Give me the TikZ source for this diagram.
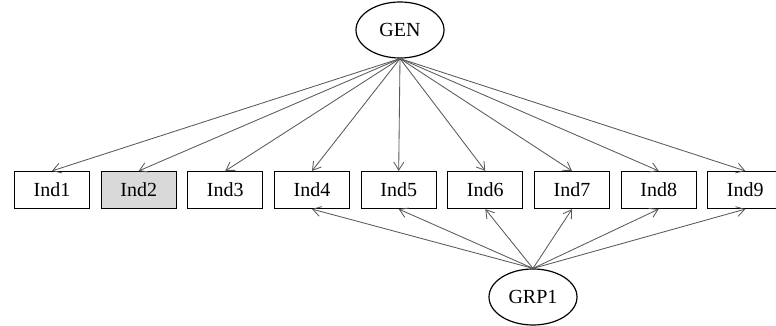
\documentclass[tikz,border=0pt]{standalone}
\usepackage{fontspec}
\setmainfont{Liberation Serif}
\usetikzlibrary{arrows.meta,shapes.geometric}
\begin{document}
\begin{tikzpicture}[x=1pt,y=-1pt,
  indbox/.style={draw=black,line width=1.2pt,minimum width=75pt,minimum height=37pt,inner sep=0pt,font=\fontsize{20}{22}\selectfont},
  latent/.style={draw=black,ellipse,line width=1.2pt,minimum width=88pt,minimum height=56pt,inner sep=0pt,font=\fontsize{20}{22}\selectfont},
  conn/.style={draw=black!65,line width=0.85pt,-{Straight Barb[length=8pt,width=10pt]}}]
\useasboundingbox (0,0) rectangle (776,326);
\clip (0,0) rectangle (776,326);
\node[latent] (GEN) at (400,30) {GEN};
\node[latent] (GRP1) at (533,297) {GRP1};
\foreach \i/\x in {1/52,2/138.7,3/225.3,4/312,5/398.7,6/485.3,7/572,8/658.7,9/745.3}{
  \node[indbox] (Ind\i) at (\x,190) {Ind\i};
}
\node[indbox,fill=black!15] at (Ind2) {Ind2};
\foreach \i in {1,...,9}{
  \draw[conn] (GEN.south) -- (Ind\i.north);
}
\foreach \i in {4,...,9}{
  \draw[conn] (GRP1.north) -- (Ind\i.south);
}
\end{tikzpicture}
\end{document}
